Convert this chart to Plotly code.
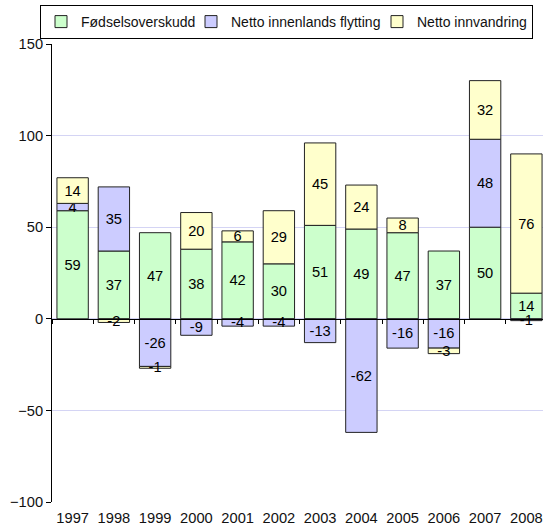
import plotly.graph_objects as go

years = ["1997", "1998", "1999", "2000", "2001", "2002", "2003", "2004", "2005", "2006", "2007", "2008"]
fodsel = [59, 37, 47, 38, 42, 30, 51, 49, 47, 37, 50, 14]
innenlands = [4, 35, -26, -9, -4, -4, -13, -62, -16, -16, 48, -1]
innvandring = [14, -2, -1, 20, 6, 29, 45, 24, 8, -3, 32, 76]

series = [
    ("Fødselsoverskudd", fodsel, "#ccffcc", 105),
    ("Netto innenlands flytting", innenlands, "#ccccff", 141),
    ("Netto innvandring", innvandring, "#ffffcc", 110),
]

FONT = "Liberation Sans, Arial, sans-serif"
FS = 14.67
W, H = 547, 530
L, R, T, B = 52, 0, 44, 28
pw = W - L - R
ph = H - T - B

fig = go.Figure()
for name, vals, col, lw in series:
    fig.add_trace(go.Bar(
        x=years, y=vals, name=name, legendwidth=lw,
        marker=dict(color=col, line=dict(color="#222222", width=1)),
        text=[str(v) for v in vals], textposition="inside", insidetextanchor="middle",
        textangle=0, textfont=dict(size=FS, color="black", family=FONT),
        constraintext="none", cliponaxis=False,
    ))

# invisible helper trace for bottom category labels
fig.add_trace(go.Scatter(x=years, y=[None] * len(years), xaxis="x2", yaxis="y",
                         showlegend=False, hoverinfo="skip", mode="markers"))

fig.update_layout(
    width=W, height=H,
    margin=dict(l=L, r=R, t=T, b=B),
    paper_bgcolor="white", plot_bgcolor="white",
    barmode="relative", bargap=0.24,
    font=dict(family=FONT, size=FS, color="#111111"),
    uniformtext=dict(minsize=FS, mode="show"),
    legend=dict(orientation="h", x=(40 - L) / pw, y=1 + (T - 5) / ph,
                xanchor="left", yanchor="top",
                bordercolor="black", borderwidth=1, font=dict(size=14),
                itemwidth=30, traceorder="normal"),
    xaxis=dict(type="category", anchor="free", position=100 / 250, showline=True,
               linecolor="black", linewidth=1, ticks="outside", ticklen=4,
               tickcolor="black", tickson="boundaries", showticklabels=False,
               showgrid=False, range=[-0.5, 11.5]),
    xaxis2=dict(type="category", overlaying="x", anchor="y", side="bottom",
                categoryorder="array", categoryarray=years, range=[-0.5, 11.5],
                showline=False, ticks="outside", ticklen=2,
                tickcolor="rgba(0,0,0,0)", showgrid=False, tickfont=dict(size=FS)),
    yaxis=dict(range=[-100, 150], dtick=50, showline=True, linecolor="black",
               linewidth=1, ticks="outside", ticklen=5, tickcolor="black",
               gridcolor="#d4d4f4", zeroline=False, tickfont=dict(size=FS)),
)

fig.write_html("out.html", config={"displayModeBar": False}, post_script=(
    "document.body.style.margin='0';document.body.style.overflow='hidden';"
    "document.documentElement.style.overflow='hidden';"))
